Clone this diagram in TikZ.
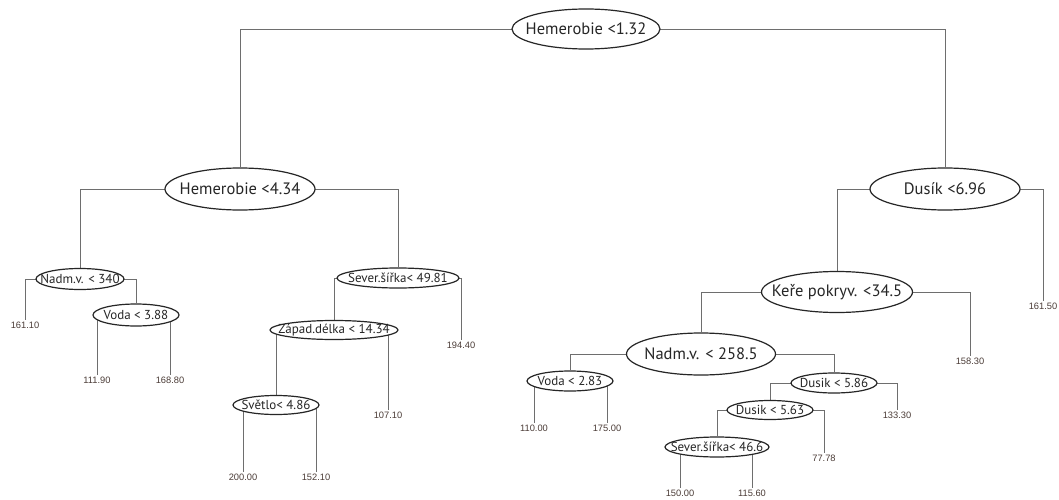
\documentclass[tikz,border=0pt]{standalone}
\usepackage{fontspec}
\setmainfont{PT Sans}
\newfontfamily\leaffont{Liberation Sans}
\usetikzlibrary{shapes.geometric,backgrounds}
\definecolor{leafc}{RGB}{75,60,55}
\definecolor{edgec}{RGB}{110,110,110}
\newcommand\tx[1]{\makebox[0pt]{#1}}
\begin{document}
\begin{tikzpicture}[x=1pt,y=-1pt,
 split/.style={ellipse, draw=black!85, line width=1.2pt, fill=white, inner sep=0pt, text=black!85},
 big/.style={split, font=\fontsize{16.5}{18}\selectfont},
 small/.style={split, font=\fontsize{13}{14}\selectfont},
 leaf/.style={font=\leaffont\fontsize{9.3}{10}\selectfont, text=leafc, inner sep=1.5pt},
 conn/.style={draw=edgec, line width=0.8pt}]
\useasboundingbox (0,0) rectangle (1059,500);
% split nodes
\node[big, minimum width=148pt, minimum height=40pt] (root) at (586,29) {\tx{Hemerobie <1.32}};
\node[big, minimum width=150pt, minimum height=42pt] (h1) at (240,189) {\tx{Hemerobie <4.34}};
\node[big, minimum width=150pt, minimum height=42pt] (d1) at (945,189) {\tx{Dusík <6.96}};
\node[small, minimum width=88pt, minimum height=21pt] (n1) at (80,279) {\tx{Nadm.v. < 340}};
\node[small, minimum width=86pt, minimum height=22pt] (v1) at (136,315) {\tx{Voda < 3.88}};
\node[small, minimum width=122pt, minimum height=20pt] (s1) at (398,278) {\tx{Sever.šířka< 49.81}};
\node[small, minimum width=128pt, minimum height=19pt] (z1) at (334,330) {\tx{Západ.délka < 14.34}};
\node[small, minimum width=86pt, minimum height=19pt] (sv) at (276,405) {\tx{Světlo< 4.86}};
\node[big, minimum width=151pt, minimum height=41pt] (k1) at (837,292) {\tx{Keře pokryv. <34.5}};
\node[big, minimum width=149pt, minimum height=42pt] (n2) at (701,354) {\tx{Nadm.v. < 258.5}};
\node[small, minimum width=86pt, minimum height=20pt] (v2) at (570,381) {\tx{Voda < 2.83}};
\node[small, minimum width=86pt, minimum height=20pt] (ds1) at (834,383) {\tx{Dusik < 5.86}};
\node[small, minimum width=86pt, minimum height=19pt] (ds2) at (770,410) {\tx{Dusik < 5.63}};
\node[small, minimum width=104pt, minimum height=20pt] (sv2) at (717,447) {\tx{Sever.šířka< 46.6}};
% leaves
\node[leaf] (l1611) at (25,325) {161.10};
\node[leaf] (l1119) at (97,380) {111.90};
\node[leaf] (l1688) at (170,380) {168.80};
\node[leaf] (l1944) at (461,345) {194.40};
\node[leaf] (l1071) at (388,415) {107.10};
\node[leaf] (l2000) at (243,477) {200.00};
\node[leaf] (l1521) at (316,477) {152.10};
\node[leaf] (l1615) at (1043,306) {161.50};
\node[leaf] (l1583) at (970,361) {158.30};
\node[leaf] (l1100) at (534,428) {110.00};
\node[leaf] (l1750) at (607,428) {175.00};
\node[leaf] (l1333) at (897,415) {133.30};
\node[leaf] (l7778) at (824,458) {77.78};
\node[leaf] (l1500) at (680,493) {150.00};
\node[leaf] (l1156) at (752,493) {115.60};
\begin{scope}[on background layer]
\fill[white] (0,0) rectangle (1059,500);
\draw[conn] (root.center) -| (h1.north);
\draw[conn] (root.center) -| (d1.north);
\draw[conn] (h1.center) -| (n1.north);
\draw[conn] (h1.center) -| (s1.north);
\draw[conn] (n1.center) -| (l1611.north);
\draw[conn] (n1.center) -| (v1.north);
\draw[conn] (v1.center) -| (l1119.north);
\draw[conn] (v1.center) -| (l1688.north);
\draw[conn] (s1.center) -| (z1.north);
\draw[conn] (s1.center) -| (l1944.north);
\draw[conn] (z1.center) -| (sv.north);
\draw[conn] (z1.center) -| (l1071.north);
\draw[conn] (sv.center) -| (l2000.north);
\draw[conn] (sv.center) -| (l1521.north);
\draw[conn] (d1.center) -| (k1.north);
\draw[conn] (d1.center) -| (l1615.north);
\draw[conn] (k1.center) -| (n2.north);
\draw[conn] (k1.center) -| (l1583.north);
\draw[conn] (n2.center) -| (v2.north);
\draw[conn] (n2.center) -| (ds1.north);
\draw[conn] (v2.center) -| (l1100.north);
\draw[conn] (v2.center) -| (l1750.north);
\draw[conn] (ds1.center) -| (ds2.north);
\draw[conn] (ds1.center) -| (l1333.north);
\draw[conn] (ds2.center) -| (sv2.north);
\draw[conn] (ds2.center) -| (l7778.north);
\draw[conn] (sv2.center) -| (l1500.north);
\draw[conn] (sv2.center) -| (l1156.north);
\end{scope}
\end{tikzpicture}
\end{document}
